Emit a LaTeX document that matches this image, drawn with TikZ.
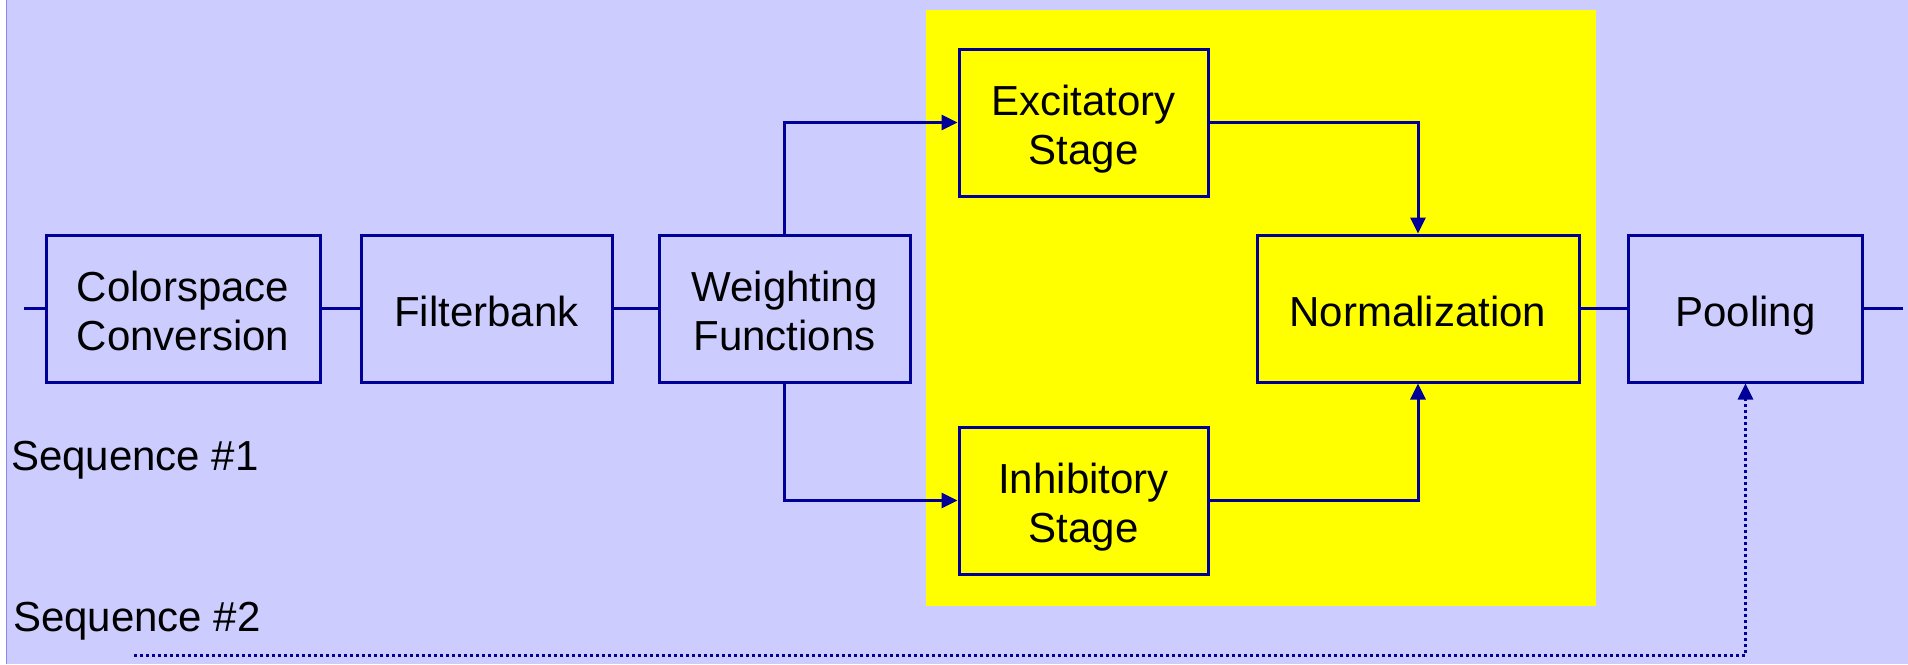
\documentclass[tikz,border=0pt]{standalone}
\usepackage{fontspec}
\setmainfont{Liberation Sans}
\usetikzlibrary{arrows.meta}
\definecolor{pagebg}{HTML}{CCCCFF}
\definecolor{edgeline}{HTML}{8A8AF0}
\definecolor{stagebg}{HTML}{FFFF00}
\definecolor{wire}{HTML}{000099}
% one text line with a fixed height and depth, so every block
% places its baselines the same way whatever the letters are
\newcommand\rowtxt[1]{\rule[-5pt]{0pt}{45pt}\smash{#1}}
\tikzset{
  blk/.style={draw=wire, line width=3pt, inner sep=0pt, align=center,
    minimum height=147pt, text=black,
    font=\fontsize{42}{49}\selectfont},
  wireline/.style={draw=wire, line width=3pt},
  tip/.style={-{Triangle[length=16pt,width=15pt]}},
  dotline/.style={draw=wire, line width=3pt, dash pattern=on 3pt off 3pt},
  seqlabel/.style={anchor=base west, inner sep=0pt, text=black,
    font=\fontsize{42}{49}\selectfont}
}
\begin{document}
\begin{tikzpicture}[x=1pt,y=-1pt]
  % page and highlighted processing stage
  \useasboundingbox (0,0) rectangle (1908,664);
  \fill[white] (0,0) rectangle (1908,664);
  \fill[pagebg] (6,0) rectangle (1908,664);
  \draw[edgeline, line width=1.3pt] (6.5,0) -- (6.5,664);
  \fill[stagebg] (926,10) rectangle (1596,606);

  % blocks
  \node[blk, fill=pagebg, minimum width=274pt] (csc) at (183,308.5) {\rowtxt{Colorspace}\\\rowtxt{Conversion}};
  \node[blk, fill=pagebg, minimum width=251pt] (fb) at (486.5,308.5) {\rowtxt{Filterbank}};
  \node[blk, fill=pagebg, minimum width=251pt] (wf) at (784.5,308.5) {\rowtxt{Weighting}\\\rowtxt{Functions}};
  \node[blk, fill=stagebg, minimum width=249pt] (exc) at (1083.5,122.5) {\rowtxt{Excitatory}\\\rowtxt{Stage}};
  \node[blk, fill=stagebg, minimum width=249pt] (inh) at (1083.5,500.5) {\rowtxt{Inhibitory}\\\rowtxt{Stage}};
  \node[blk, fill=stagebg, minimum width=322pt] (norm) at (1418,308.5) {\rowtxt{Normalization}};
  \node[blk, fill=pagebg, minimum width=234pt] (pool) at (1745.5,308.5) {\rowtxt{Pooling}};

  % labels
  \node[seqlabel] (seq1) at (11,470) {Sequence \#1};
  \node[seqlabel] (seq2) at (13,631) {Sequence \#2};

  % free ends of the main chain
  \coordinate (inlet) at (24,308.5);
  \coordinate (outlet) at (1903,308.5);
  \coordinate (seqstart) at (134,655);

  % main chain
  \draw[wireline] (inlet) -- (csc.west);
  \draw[wireline] (csc.east) -- (fb.west);
  \draw[wireline] (fb.east) -- (wf.west);
  \draw[wireline] (norm.east) -- (pool.west);
  \draw[wireline] (pool.east) -- (outlet);

  % excitatory / inhibitory branches
  \draw[wireline, tip] (wf.north) |- (exc.west);
  \draw[wireline, tip] (wf.south) |- (inh.west);
  \draw[wireline, tip] (exc.east) -| (norm.north);
  \draw[wireline, tip] (inh.east) -| (norm.south);

  % second sequence feeding the pooling stage
  \draw[dotline, tip] (seqstart) -| (pool.south);
\end{tikzpicture}
\end{document}
